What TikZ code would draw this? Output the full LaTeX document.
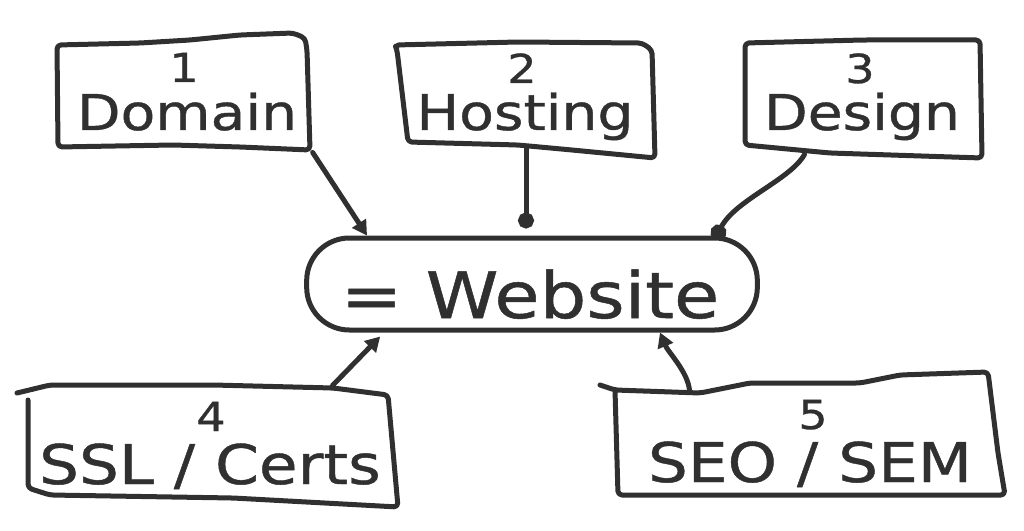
\documentclass[tikz,border=0pt]{standalone}
\usepackage{fontspec}
\setmainfont[FakeStretch=1.15,FakeBold=0.8]{DejaVu Sans}
\usetikzlibrary{arrows.meta,calc}
\definecolor{ink}{HTML}{303030}
\begin{document}
\begin{tikzpicture}[x=0.75pt,y=-0.75pt,
  color=ink, line width=3.75pt, line cap=round, line join=round,
  word/.style={font=\fontsize{37}{42}\selectfont, anchor=base, inner sep=0pt},
  bigword/.style={font=\fontsize{41}{46}\selectfont, anchor=base, inner sep=0pt},
  num/.style={font=\fontsize{30}{36}\selectfont, anchor=base, inner sep=0pt},
  holder/.style={inner sep=0pt},
  outline/.style={rounded corners=3pt},
  tri/.style={-{Triangle[length=11pt,width=12pt]}},
  dot/.style={-{Circle[length=12pt]}}]
\useasboundingbox (0,0) rectangle (1024,531);

% invisible holders for the boxes
\node[holder, minimum width=190pt,    minimum height=81pt]    (b1) at (183.5,96) {};
\node[holder, minimum width=193.5pt,  minimum height=76.5pt]  (b2) at (526,95) {};
\node[holder, minimum width=177.75pt, minimum height=85.5pt]  (b3) at (863.5,98) {};
\node[holder, minimum width=279.75pt, minimum height=87.75pt] (b4) at (211.5,446.5) {};
\node[holder, minimum width=291pt,    minimum height=89.25pt] (b5) at (809,437.5) {};

% hand-drawn box outlines
\draw[outline] (57,45) -- (140,43) -- (190,40) -- (240,35) -- (293,33) -- (305,38) -- (307,50)
  -- (310,150) -- (240,147) -- (173,145) -- (58,147) -- cycle;
\draw[outline] (395,45) -- (518,42) -- (642,43) -- (652,50) -- (655,158) -- (572,150)
  -- (518,145) -- (408,142) -- (397,50) -- cycle;
\draw[outline] (745,43) -- (863,40) -- (980,40) -- (982,158) -- (830,153) -- (745,145) -- cycle;
\draw[outline] (17,393) -- (50,385) -- (213,385) -- (333,388) -- (388,395) -- (398,507)
  -- (233,498) -- (50,495) -- (28,488) -- (28,400);
\draw[outline] (600,385) -- (615,390) -- (700,393) -- (750,383) -- (860,383) -- (900,375)
  -- (988,372) -- (998,453) -- (1005,495) -- (618,495) -- (615,390);

% central node
\node[draw, rounded corners=32pt, minimum width=338pt, minimum height=69pt, inner sep=0pt]
  (web) at (532,284) {};
\node[font=\fontsize{48}{54}\selectfont, anchor=base, inner sep=0pt] (wt) at (530,318) {= Website};

% texts
\node[num]  (n1) at (184,82)  {1};
\node[word] (w1) at (187,130) {Domain};
\node[num]  (n2) at (522,83)  {2};
\node[word] (w2) at (525,130) {Hosting};
\node[num]  (n3) at (860,83)  {3};
\node[word] (w3) at (862,130) {Design};
\node[num]  (n4) at (211,431) {4};
\node[bigword] (w4) at (210,484) {SSL / Certs};
\node[num]  (n5) at (813,429) {5};
\node[bigword] (w5) at (810,482) {SEO / SEM};

% connectors
\draw[tri] (b1.south east) -- ($(web.north)+(-165,0)$);
\draw[dot] (b2.south) -- ($(web.north)+(-6,-7)$);
\draw[dot] ($(b3.south west)+(62,-3)$) .. controls (790,180) and (735,200) .. ($(web.north east)+(-45,4)$);
\draw[tri] ($(b4.north east)+(-68,0)$) -- ($(web.south west)+(76,4)$);
\draw[tri] ($(b5.north west)+(77,15)$) .. controls (688,372) and (668,352) .. ($(web.south)+(128,0)$);
\end{tikzpicture}
\end{document}
